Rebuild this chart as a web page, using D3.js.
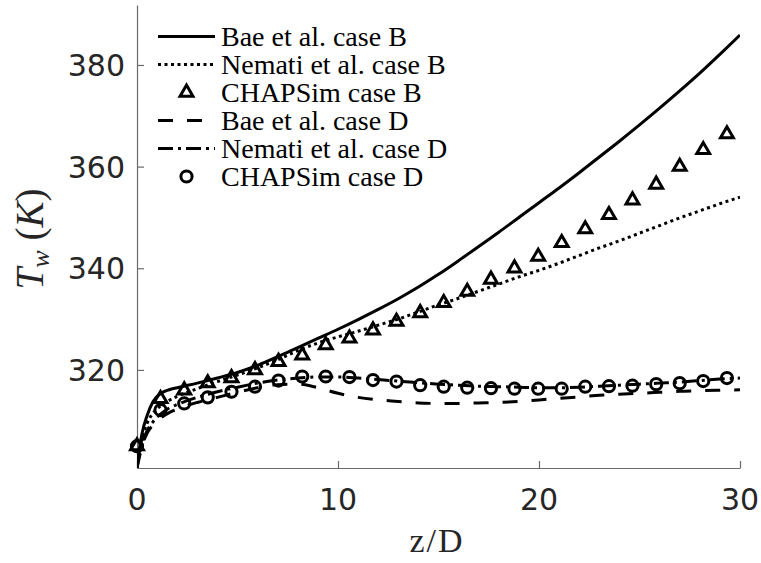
<!DOCTYPE html>
<html lang="en">
<head>
  <meta charset="UTF-8">
  <title>Wall temperature along z/D</title>
  <script src="https://d3js.org/d3.v7.min.js"></script>
  <style>
    body { margin: 0; background: #fff; }
    .tick-label { font-family: "DejaVu Sans", sans-serif; font-size: 30px; fill: #262626; }
    .legend-text { font-family: "Liberation Serif", "Times New Roman", serif; font-size: 28px; fill: #000; }
    .axis-title { font-family: "Liberation Serif", "Times New Roman", serif; fill: #262626; }
  </style>
</head>
<body>
  <svg width="761" height="563"></svg>

  <script>
    // line positions (z/D) and wall temperature (K)
    const zLine = [0, 0.1, 0.25, 0.5, 0.8, 1.2, 1.6, 2, 3, 4, 5, 6, 7, 8, 9, 10, 11, 12, 13, 14, 15,
                   16, 17, 18, 19, 20, 21, 22, 23, 24, 25, 26, 27, 28, 29, 30];
    const baeB = [300.7, 304, 307.5, 311, 313.8, 315.4, 316.1, 316.5, 317.4, 318.4, 319.5, 320.9, 322.6, 324.4,
                  326.2, 328, 329.9, 331.9, 334, 336.3, 338.8, 341.5, 344.3, 347.1, 350, 352.9, 355.8, 358.8,
                  361.9, 365, 368.2, 371.5, 374.9, 378.4, 382.1, 385.9];
    const nematiB = [300.7, 303.5, 306.5, 309.5, 311.5, 313, 314, 314.8, 316.3, 317.7, 319, 320.4, 322, 323.8,
                     325.3, 326.5, 327.6, 328.8, 330, 331.4, 332.8, 334.1, 335.5, 336.9, 338.3, 339.6, 341,
                     342.5, 344, 345.4, 346.9, 348.4, 349.9, 351.3, 352.7, 354];
    const baeD = [300.7, 302.5, 305, 307.5, 309.2, 310.6, 311.6, 312.3, 313.6, 314.6, 315.6, 316.5, 317.1, 317.2,
                  316.5, 315.4, 314.6, 314.1, 313.8, 313.5, 313.4, 313.4, 313.5, 313.6, 313.8, 314.1, 314.4,
                  314.7, 315, 315.2, 315.4, 315.6, 315.8, 315.9, 316, 316.1];
    const nematiD = [300.7, 303, 305.5, 308, 309.8, 311.4, 312.5, 313.2, 314.6, 315.7, 316.6, 317.4, 318, 318.4,
                     318.6, 318.6, 318.4, 318.1, 317.8, 317.5, 317.2, 317, 316.8, 316.7, 316.6, 316.5, 316.5,
                     316.6, 316.8, 317, 317.2, 317.4, 317.6, 317.9, 318.2, 318.4];

    // CHAPSim marker positions and values
    const zMark = [0, 1.17, 2.35, 3.52, 4.7, 5.87, 7.04, 8.22, 9.39, 10.57, 11.74, 12.91, 14.09, 15.26, 16.43,
                   17.61, 18.78, 19.96, 21.13, 22.3, 23.48, 24.65, 25.83, 27, 28.17, 29.35];
    const chapB = [305, 314.3, 316, 317.4, 318.4, 320, 321.6, 322.9, 324.9, 326.2, 327.8, 329.5, 331.2, 333.2,
                   335.4, 337.8, 340, 342.3, 345, 347.7, 350.5, 353.4, 356.5, 360, 363.3, 366.4];
    const chapD = [305, 312.1, 313.4, 314.6, 315.7, 316.7, 317.9, 318.7, 318.7, 318.6, 318, 317.7, 317, 316.7,
                   316.5, 316.4, 316.3, 316.3, 316.3, 316.7, 316.8, 316.9, 317.2, 317.4, 317.8, 318.4];

    const xTicks = [0, 10, 20, 30];
    const yTicks = [320, 340, 360, 380];
    const legendLabels = ["Bae et al. case B", "Nemati et al. case B", "CHAPSim case B",
                          "Bae et al. case D", "Nemati et al. case D", "CHAPSim case D"];

    const plot = {left: 137, right: 740, top: 5, bottom: 468};
    const svg = d3.select("svg");

    const x = d3.scaleLinear().domain([0, 30]).range([plot.left, plot.right]);
    const y = d3.scaleLinear().domain([300.7, 391.8]).range([plot.bottom, plot.top]);

    svg.append("defs").append("clipPath").attr("id", "clip")
      .append("rect")
      .attr("x", plot.left).attr("y", plot.top)
      .attr("width", plot.right - plot.left).attr("height", plot.bottom - plot.top);

    // Axes (left and bottom only, ticks pointing in)
    const axisColor = "#6a6a6a";
    const xAxis = svg.append("g")
      .attr("transform", `translate(0,${plot.bottom})`)
      .call(d3.axisBottom(x).tickValues(xTicks).tickSize(-7).tickSizeOuter(0).tickFormat(""));
    const yAxis = svg.append("g")
      .attr("transform", `translate(${plot.left},0)`)
      .call(d3.axisLeft(y).tickValues(yTicks).tickSize(-7).tickSizeOuter(0).tickFormat(""));
    [xAxis, yAxis].forEach(g => {
      g.select(".domain").attr("stroke", axisColor).attr("stroke-width", 1.2);
      g.selectAll(".tick line").attr("stroke", axisColor).attr("stroke-width", 1.2);
    });

    svg.selectAll(".xlab").data(xTicks).join("text")
      .attr("class", "tick-label")
      .attr("x", d => x(d)).attr("y", 510)
      .attr("text-anchor", "middle")
      .text(d => d);

    svg.selectAll(".ylab").data(yTicks).join("text")
      .attr("class", "tick-label")
      .attr("x", 125).attr("y", d => y(d) + 11)
      .attr("text-anchor", "end")
      .text(d => d);

    // Axis titles
    svg.append("text")
      .attr("class", "axis-title")
      .attr("x", 437).attr("y", 552)
      .attr("text-anchor", "middle")
      .attr("font-size", 34)
      .attr("letter-spacing", 2)
      .text("z/D");

    const yt = svg.append("text")
      .attr("class", "axis-title")
      .attr("transform", "translate(43,239) rotate(-90)")
      .attr("text-anchor", "middle")
      .attr("font-size", 39);
    yt.append("tspan").attr("font-style", "italic").text("T");
    yt.append("tspan").attr("font-style", "italic").attr("font-size", 26).attr("dy", 6).text("w");
    yt.append("tspan").attr("dy", -6).text(" (");
    yt.append("tspan").attr("font-style", "italic").text("K");
    yt.append("tspan").text(")");

    // Series
    const series = [
      {vals: baeB, dash: null},
      {vals: nematiB, dash: "3,3.5"},
      {vals: baeD, dash: "15,14"},
      {vals: nematiD, dash: "15,5,3,5"}
    ];
    const line = d3.line()
      .x(d => x(d[0])).y(d => y(d[1]))
      .curve(d3.curveMonotoneX);

    const lines = svg.append("g").attr("clip-path", "url(#clip)");
    series.forEach(s => {
      lines.append("path")
        .datum(zLine.map((z, i) => [z, s.vals[i]]))
        .attr("d", line)
        .attr("fill", "none")
        .attr("stroke", "#000")
        .attr("stroke-width", 3)
        .attr("stroke-dasharray", s.dash);
    });

    const tri = d3.symbol().type(d3.symbolTriangle).size(72);
    svg.append("g").selectAll("path")
      .data(zMark.map((z, i) => [z, chapB[i]]))
      .join("path")
      .attr("d", tri)
      .attr("transform", d => `translate(${x(d[0])},${y(d[1])})`)
      .attr("fill", "none").attr("stroke", "#000").attr("stroke-width", 3);

    svg.append("g").selectAll("circle")
      .data(zMark.map((z, i) => [z, chapD[i]]))
      .join("circle")
      .attr("cx", d => x(d[0])).attr("cy", d => y(d[1]))
      .attr("r", 5.6)
      .attr("fill", "none").attr("stroke", "#000").attr("stroke-width", 3);

    // Legend
    const legend = svg.append("g");
    const rowY = i => 36.5 + i * 28;
    const legendStyles = [
      {type: "line", dash: null},
      {type: "line", dash: "3,3.5"},
      {type: "tri"},
      {type: "line", dash: "15,14"},
      {type: "line", dash: "15,5,3,5"},
      {type: "circ"}
    ];
    legendStyles.forEach((s, i) => {
      const cy = rowY(i);
      if (s.type === "line") {
        legend.append("line")
          .attr("x1", 158).attr("x2", 215).attr("y1", cy).attr("y2", cy)
          .attr("stroke", "#000").attr("stroke-width", 3)
          .attr("stroke-dasharray", s.dash);
      } else if (s.type === "tri") {
        legend.append("path").attr("d", tri)
          .attr("transform", `translate(186.5,${cy})`)
          .attr("fill", "none").attr("stroke", "#000").attr("stroke-width", 3);
      } else {
        legend.append("circle").attr("cx", 186.5).attr("cy", cy).attr("r", 5.6)
          .attr("fill", "none").attr("stroke", "#000").attr("stroke-width", 3);
      }
      legend.append("text")
        .attr("class", "legend-text")
        .attr("x", 221).attr("y", cy + 9)
        .text(legendLabels[i]);
    });
  </script>
</body>
</html>
